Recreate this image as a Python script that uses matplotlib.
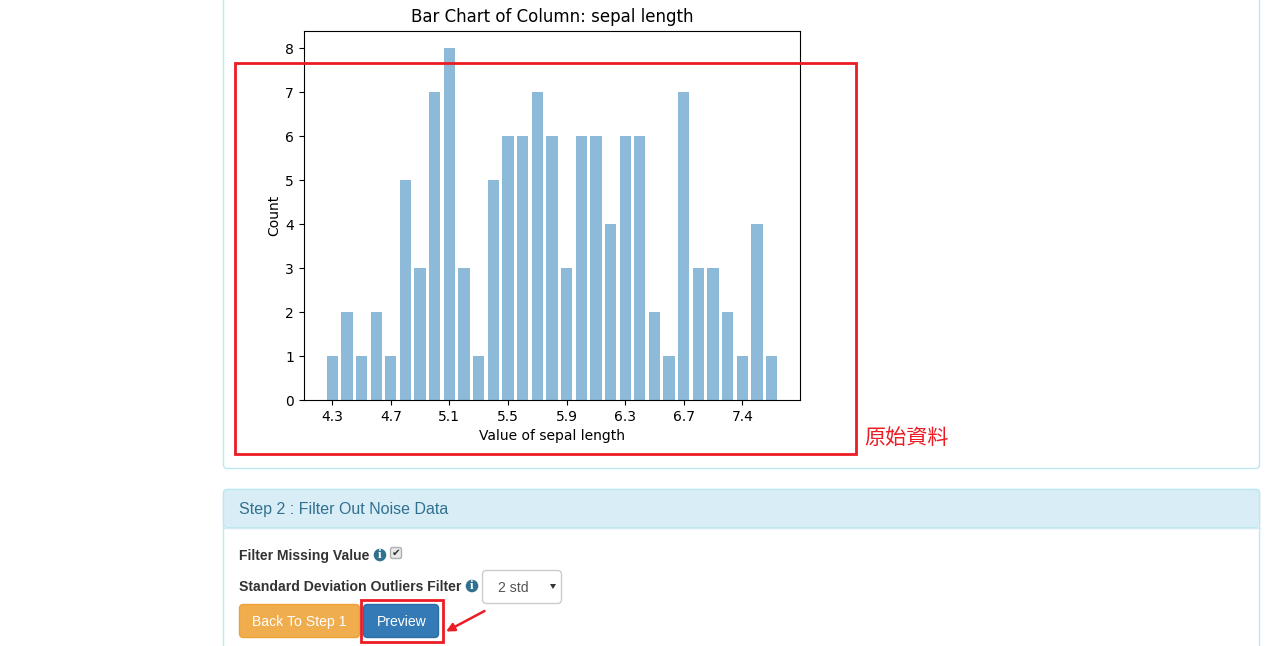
import matplotlib
matplotlib.use("Agg")
import matplotlib.pyplot as plt
import matplotlib.patches as mpatches
import numpy as np

W, H = 1272, 646

# bar chart values
lengths = [4.3, 4.4, 4.5, 4.6, 4.7, 4.8, 4.9, 5.0, 5.1, 5.2, 5.3, 5.4, 5.5, 5.6, 5.7, 5.8,
           5.9, 6.0, 6.1, 6.2, 6.3, 6.4, 6.5, 6.6, 6.7, 6.8, 6.9, 7.2, 7.4, 7.7, 7.9]
counts = [1, 2, 1, 2, 1, 5, 3, 7, 8, 3, 1, 5, 6, 6, 7, 6,
          3, 6, 6, 4, 6, 6, 2, 1, 7, 3, 3, 2, 1, 4, 1]

fig = plt.figure(figsize=(W / 100, H / 100), dpi=100, facecolor="white")

# chart
ax = fig.add_axes([303.8 / W, 1 - 400 / H, 496 / W, 369 / H], zorder=1)
pos = np.arange(len(lengths))
ax.bar(pos, counts, width=0.77, color="#1f77b4", alpha=0.5)
ax.set_xticks(pos[::4])
ax.set_xticklabels(["%.1f" % v for v in lengths[::4]])
ax.set_xlim(-1.94, 31.92)
ax.set_ylim(0, 8.39)
ax.set_xlabel("Value of sepal length", labelpad=4)
ax.set_ylabel("Count", labelpad=3)
ax.set_title("Bar Chart of Column: sepal length", fontsize=12, pad=6.5)
ax.patch.set_alpha(0)

# page drawn in pixel coordinates, under and over the chart
page = fig.add_axes([0, 0, 1, 1], zorder=0)
page.set_xlim(0, W)
page.set_ylim(H, 0)
page.axis("off")

over = fig.add_axes([0, 0, 1, 1], zorder=2)
over.set_xlim(0, W)
over.set_ylim(H, 0)
over.axis("off")
over.patch.set_alpha(0)


def box(a, x0, y0, x1, y1, face, edge, lw=1, rad=4, z=1):
    a.add_patch(mpatches.FancyBboxPatch((x0, y0), x1 - x0, y1 - y0,
                                        boxstyle="round,pad=0,rounding_size=%g" % rad,
                                        facecolor=face, edgecolor=edge, linewidth=lw, zorder=z))


def info(a, x, y):
    a.add_patch(mpatches.Circle((x, y), 6.3, facecolor="#31708f", edgecolor="none", zorder=3))
    a.text(x, y + 0.3, "i", color="white", fontsize=9.5, fontweight="bold", family="Liberation Serif",
           ha="center", va="center", zorder=4)


sans = "Liberation Sans"
blue_border = "#bce8f1"

# top panel, runs off the top of the screenshot
box(page, 223.5, -20, 1259.5, 468.5, "white", blue_border)

# second panel
box(page, 223.5, 489.5, 1259.5, 680, "white", blue_border)
box(page, 223.5, 489.5, 1259.5, 527.5, "#d9edf7", blue_border, z=2)
page.add_patch(mpatches.Rectangle((224.5, 515), 1034, 12, facecolor="#d9edf7", edgecolor="none", zorder=2))
page.plot([223.5, 1259.5], [527.5, 527.5], color="#d0e9f2", lw=1, zorder=3)
page.text(239.3, 509.3, "Step 2 : Filter Out Noise Data", color="#31708f", fontsize=11.5,
          family=sans, va="center")

page.text(239.3, 555.8, "Filter Missing Value", color="#333333", fontsize=10.1, fontweight="bold",
          family=sans, va="center")
info(page, 380, 555)
box(page, 390.5, 547.5, 401.5, 558.5, "#e9e9e9", "#b0b0b0", rad=2)
page.text(396, 553, "\u2714", color="#333333", fontsize=7.5, family="DejaVu Sans",
          ha="center", va="center", zorder=4)

page.text(239.3, 586.8, "Standard Deviation Outliers Filter", color="#333333", fontsize=10.1,
          fontweight="bold", family=sans, va="center")
info(page, 472, 586)
box(page, 482.5, 570.5, 561.5, 603.5, "white", "#cccccc")
page.text(498.5, 587.8, "2 std", color="#555555", fontsize=10.1, family=sans, va="center")
page.add_patch(mpatches.Polygon([(550, 584), (556, 584), (553, 589)], facecolor="#333333",
                                edgecolor="none", zorder=3))

box(page, 239.5, 604.5, 359.5, 637.5, "#f0ad4e", "#eea236")
page.text(299.5, 621.8, "Back To Step 1", color="white", fontsize=10.1, family=sans,
          ha="center", va="center", zorder=3)
box(page, 363.5, 604.5, 438.5, 637.5, "#337ab7", "#2e6da4")
page.text(401.5, 621.8, "Preview", color="white", fontsize=10.1, family=sans,
          ha="center", va="center", zorder=3)

# red annotations on top
red = "#ec1c24"
over.add_patch(mpatches.Rectangle((235, 63), 621, 391, fill=False, edgecolor=red, linewidth=2))
over.add_patch(mpatches.Rectangle((361, 600), 82, 42, fill=False, edgecolor=red, linewidth=2))
over.text(864, 438, "原始資料", color=red, fontsize=15.2, va="center",
          family=["Noto Sans CJK TC", "DejaVu Sans"])
over.annotate("", xy=(446, 631.5), xytext=(484.5, 611),
              arrowprops=dict(arrowstyle="-|>", color=red, lw=1.8, mutation_scale=12, shrinkA=0, shrinkB=0))

fig.savefig("out.png", dpi=100)
